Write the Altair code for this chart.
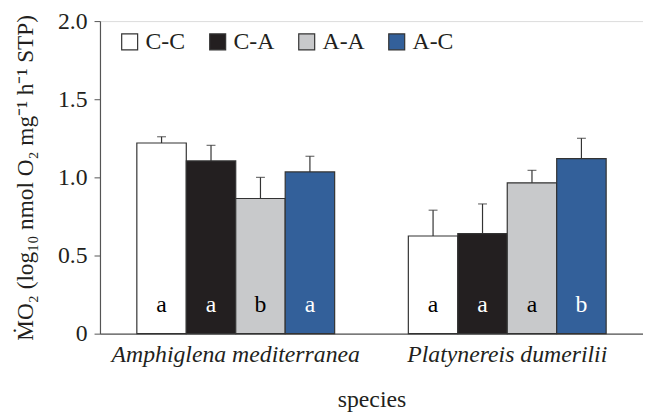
import altair as alt
import pandas as pd

species = ["Amphiglena mediterranea", "Platynereis dumerilii"]
treatments = ["C-C", "C-A", "A-A", "A-C"]
colors = ["#ffffff", "#231f20", "#c8c9cb", "#33609a"]
means = [[1.22, 1.105, 0.865, 1.035], [0.625, 0.64, 0.965, 1.12]]
errs = [[0.04, 0.10, 0.135, 0.10], [0.165, 0.19, 0.08, 0.13]]
letters = [["a", "a", "b", "a"], ["a", "a", "a", "b"]]
letter_colors = [["black", "white", "black", "white"], ["black", "white", "black", "white"]]

rows = []
for i, sp in enumerate(species):
    for j, t in enumerate(treatments):
        rows.append(dict(species=sp, treatment=t, mean=means[i][j],
                         upper=means[i][j] + errs[i][j], letter=letters[i][j],
                         lcol=letter_colors[i][j], lpos=0.18))
df = pd.DataFrame(rows)

FONT = "Liberation Serif"
FS = 24

x = alt.X("species:N", sort=species,
          scale=alt.Scale(paddingInner=0, paddingOuter=0),
          axis=alt.Axis(title="species", labelAngle=0, labelFont=FONT, labelFontSize=FS,
                        labelFontStyle="italic", labelColor="#231f20", ticks=False,
                        labelLimit=500, labelPadding=9, titleFont=FONT, titleFontSize=FS,
                        titleFontWeight="normal", titleColor="#231f20", titlePadding=22,
                        domainColor="#555", domainWidth=1.2))
xo = alt.XOffset("treatment:N", sort=treatments,
                 scale=alt.Scale(paddingInner=0, paddingOuter=0.745))

base = alt.Chart(df).encode(x=x, xOffset=xo)

bars = base.mark_bar(stroke="#333333", strokeWidth=1.2).encode(
    y=alt.Y("mean:Q", scale=alt.Scale(domain=[0, 2]),
            axis=alt.Axis(title="ṀO₂ (log₁₀ nmol O₂ mg⁻¹ h⁻¹ STP)", values=[0, 0.5, 1.0, 1.5, 2.0],
                          labelExpr="datum.value == 0 ? '0' : format(datum.value, '.1f')",
                          grid=False, tickSize=6, tickColor="#555", domainColor="#555",
                          domainWidth=1.2, labelFont=FONT, labelFontSize=FS,
                          labelColor="#231f20", labelPadding=7, titleFont=FONT,
                          titleFontSize=23.5, titleFontWeight="normal", titleColor="#231f20",
                          titlePadding=20)),
    fill=alt.Fill("treatment:N", sort=treatments,
                  scale=alt.Scale(domain=treatments, range=colors),
                  legend=alt.Legend(title=None, orient="none", legendX=18, legendY=9,
                                    direction="horizontal", symbolType="square",
                                    symbolSize=260, symbolStrokeColor="#333333",
                                    symbolStrokeWidth=1.2, labelFont=FONT, labelFontSize=FS,
                                    labelColor="#231f20", columnPadding=20, labelOffset=4)),
)

rule = base.mark_rule(color="#333333", strokeWidth=1.2).encode(y="mean:Q", y2="upper:Q")
cap = base.mark_tick(color="#333333", thickness=1.2, size=9).encode(y="upper:Q")
txt = base.mark_text(font=FONT, fontSize=FS, baseline="middle").encode(
    y="lpos:Q", text="letter:N", color=alt.Color("lcol:N", scale=None))

chart = alt.layer(bars, rule, cap, txt).properties(
    width=549, height=316,
    padding={"left": 93, "top": 11, "right": 0, "bottom": 80},
    autosize=alt.AutoSizeParams(type="none"),
).configure_view(stroke=None).configure(background="white")

chart.save("out.html", embed_options={"renderer": "svg", "actions": False})
